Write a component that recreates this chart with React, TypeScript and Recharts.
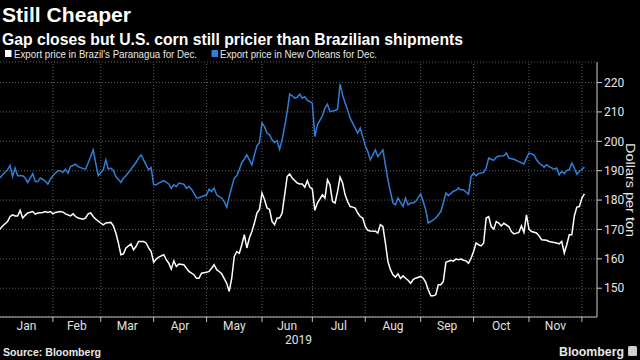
import { LineChart, Line, XAxis, YAxis, CartesianGrid, ReferenceLine } from "recharts"

const FONT = "Roboto, 'Liberation Sans', sans-serif"

// x axis is in trading sessions since the start of 2019
const months = ["Jan", "Feb", "Mar", "Apr", "May", "Jun", "Jul", "Aug", "Sep", "Oct", "Nov"]
const monthStarts = [0, 21, 40, 61, 82, 104, 124, 145, 167, 188, 210, 231]
const priceTicks = [150, 160, 170, 180, 190, 200, 210, 220]

const newOrleansDays = [
  0, 1, 3, 4, 5, 6, 7, 9, 10, 11, 13, 14, 15, 16, 18, 19, 20, 21, 23, 24, 25, 26, 27, 28, 30, 31, 33, 34, 36, 37,
  38, 39, 41, 42, 43, 44, 45, 46, 48, 49, 50, 52, 53, 54, 55, 56, 57, 58, 59, 60, 61, 62, 63, 65, 67, 68, 69, 70,
  71, 73, 74, 75, 76, 77, 78, 79, 81, 82, 83, 84, 85, 86, 87, 88, 89, 90, 91, 93, 94, 95, 96, 97, 98, 100, 101,
  102, 103, 104, 105, 106, 107, 108, 109, 110, 111, 112, 113, 114, 115, 116, 117, 118, 119, 120, 121, 122, 123,
  124, 125, 126, 128, 129, 130, 131, 133, 134, 135, 136, 137, 138, 139, 140, 141, 142, 143, 144, 145, 146, 147,
  148, 149, 150, 152, 153, 154, 155, 156, 157, 158, 159, 160, 161, 162, 163, 164, 165, 167, 168, 169, 170, 171,
  173, 174, 175, 176, 177, 178, 180, 181, 182, 183, 184, 186, 187, 188, 189, 190, 192, 193, 194, 195, 196, 197,
  198, 200, 201, 202, 204, 206, 208, 209, 210, 212, 213, 214, 216, 217, 218, 220, 221, 222, 223, 224, 225, 226,
  227, 228, 229, 230, 231, 232,
]
const newOrleansPrice = [
  187.5, 188.6, 190.3, 191.8, 188, 190.9, 188.3, 188.3, 187.5, 186, 189, 186.3, 186.3, 187.5, 186.5, 185.4, 187.1,
  188.3, 190, 190, 189.4, 190.5, 189.2, 191.4, 192.2, 191.4, 190.7, 190.5, 194.8, 197.1, 192.6, 188.3, 190.3,
  193.7, 190.6, 190.9, 190.1, 188, 186, 187.5, 188.3, 190.5, 191.7, 192.8, 194.3, 195.4, 193.7, 192, 190.3, 191.1,
  185.2, 185.2, 185.8, 186.6, 185.5, 184, 185.2, 184.6, 185.8, 185.4, 184, 184.6, 183.7, 182.4, 180.7, 180.8,
  181.5, 181.8, 183.7, 182.9, 184.1, 181.8, 181.2, 180.7, 179.5, 177.6, 181.2, 187.5, 188.3, 190.3, 192.8, 193.9,
  195.4, 192, 195.4, 198.5, 199.6, 206.2, 205, 202.8, 202.2, 200.5, 199.6, 200.3, 197.3, 200.5, 205, 210, 216.1,
  215.5, 214.7, 215, 216.1, 214.7, 215.2, 213.9, 213.5, 213, 201.6, 205.6, 208.7, 211.3, 212.6, 210.1, 210.5,
  210.9, 219.5, 215.8, 213, 210.7, 207.9, 206.2, 204.5, 202.8, 204.5, 201.6, 198.5, 196.5, 193.7, 195.4, 197.1,
  194.8, 197.1, 192, 186.9, 182.9, 179, 178.4, 180.7, 179.2, 177.8, 180.7, 178.4, 179, 179, 179.5, 182.1, 179.5,
  176.7, 172.2, 172.7, 173.9, 175, 176.1, 179, 182.4, 181.5, 183, 183.3, 184.1, 183.5, 183.5, 182, 188, 189.2,
  188.3, 189, 189.4, 190.9, 194.3, 193.9, 193.5, 194.6, 195, 195.1, 196, 194.3, 193.9, 193.1, 192.3, 194.3, 196,
  195.4, 193.7, 192.6, 191.2, 192, 191.4, 190.5, 190.9, 188.6, 189.8, 189, 190.1, 190.3, 192.6, 190.9, 188.8,
  189.8, 190.5, 191.2,
]

const paranaguaDays = [
  0, 1, 3, 4, 5, 6, 7, 8, 9, 10, 11, 13, 14, 15, 17, 18, 19, 20, 21, 22, 24, 25, 26, 28, 29, 30, 31, 33, 34, 35,
  36, 37, 38, 40, 41, 42, 44, 45, 46, 47, 48, 49, 50, 52, 53, 54, 55, 57, 58, 59, 60, 61, 62, 63, 65, 66, 67, 68,
  69, 70, 71, 73, 74, 75, 77, 78, 79, 80, 82, 83, 84, 85, 86, 87, 88, 90, 91, 92, 93, 94, 95, 96, 97, 98, 99, 100,
  101, 102, 103, 104, 105, 106, 107, 108, 109, 110, 111, 112, 113, 114, 115, 116, 118, 119, 120, 121, 122, 123,
  124, 125, 126, 128, 129, 130, 131, 132, 133, 134, 135, 136, 137, 138, 139, 140, 141, 142, 143, 144, 145, 146,
  147, 149, 150, 151, 152, 153, 154, 155, 156, 157, 158, 159, 160, 161, 162, 163, 164, 165, 167, 168, 169, 170,
  171, 172, 173, 174, 175, 176, 177, 179, 180, 181, 182, 183, 184, 185, 186, 187, 188, 189, 190, 191, 192, 193,
  194, 195, 196, 197, 198, 199, 200, 202, 203, 204, 206, 207, 208, 209, 210, 211, 213, 214, 215, 217, 218, 219,
  221, 222, 223, 224, 225, 226, 227, 228, 229, 230, 231, 232,
]
const paranaguaPrice = [
  170.1, 171.2, 172.7, 174.4, 175, 174.6, 174.6, 176.5, 173.9, 174.8, 175.6, 176.1, 175.2, 175.6, 175.8, 176.1,
  175.8, 176.1, 175.3, 175.8, 176.1, 175.9, 175.3, 174.6, 175.3, 174.4, 173.9, 173.5, 173.9, 175.3, 175.6, 174.4,
  173.5, 172.2, 171.6, 172.2, 172.4, 171.2, 168.8, 165.4, 161.4, 161.7, 163.7, 165.1, 163.1, 164.2, 165.9, 165.9,
  165.4, 163.7, 162.5, 158.8, 159.9, 160.6, 161.4, 159.7, 158.5, 156.5, 159.3, 157.4, 158.2, 158, 156.8, 155.7,
  154.6, 153.4, 153.4, 155.1, 155.4, 155.7, 156.8, 158, 156.3, 155.7, 154.9, 151.7, 148.9, 153.4, 160.8, 162.5,
  161.9, 164.8, 168.2, 163.7, 167.1, 169.3, 172.2, 175.6, 176.8, 182.4, 180.2, 177.3, 176.8, 172.7, 171.6, 173.9,
  173.9, 175.6, 181.8, 188, 188.9, 187.5, 185.8, 185.5, 185.5, 184.4, 186.6, 184.4, 183.7, 176.5, 179, 181.8,
  180.7, 186.9, 185.2, 179.5, 179, 182.9, 187.8, 185.8, 181.8, 179.5, 177.8, 177.6, 177.3, 175.6, 174.4, 173.9,
  171, 169.7, 169.5, 169.4, 168.8, 171.6, 171, 165.4, 159.1, 156.3, 154.6, 153.8, 154.9, 153.3, 154.2, 153.4,
  152.7, 151.7, 152.9, 153.4, 154, 153.4, 152, 149.5, 147.4, 147.4, 147.8, 151.2, 151.2, 152.3, 158.8, 159.5,
  159.2, 159.9, 159.7, 159.9, 159.5, 159.3, 158.5, 160.2, 162.5, 165.4, 164.8, 164.4, 165.4, 173.9, 174.4, 171,
  170.1, 172.7, 172.2, 171.2, 172.1, 171, 169.3, 168.5, 169, 171.2, 169, 175, 170, 169.3, 168.8, 167.8, 166.5,
  166.3, 165.9, 165.7, 165.4, 165.1, 165.9, 162, 164.8, 168.2, 168.2, 174.6, 177.6, 177.8, 180.7, 182.1,
]

const newOrleans = newOrleansDays.map((t, i) => ({ t, price: newOrleansPrice[i] }))
const paranagua = paranaguaDays.map((t, i) => ({ t, price: paranaguaPrice[i] }))

const monthMids = months.map((_, i) => (monthStarts[i] + monthStarts[i + 1]) / 2)
const xTicks = [...monthStarts.slice(1), ...monthMids].sort((a, b) => a - b)

function MonthTick({ x, y, payload }: any) {
  const v = payload.value
  if (monthStarts.includes(v)) {
    return <line x1={x} x2={x} y1={y} y2={y + 5} stroke="#bdbdbd" />
  }
  const label = months[monthMids.indexOf(v)]
  return (
    <text x={x} y={y + 12.5} textAnchor="middle" fill="#e0e0e0" fontSize={12}>
      {label}
    </text>
  )
}

export default function App() {
  return (
    <div
      style={{
        position: "absolute",
        left: 0,
        top: 0,
        width: 640,
        height: 360,
        background: "#000",
        overflow: "hidden",
        fontFamily: FONT,
      }}
    >
      <LineChart width={640} height={360} margin={{ top: 62, right: 0, bottom: 0, left: 0 }}>
        <CartesianGrid vertical={false} stroke="#5e5e5e" strokeDasharray="1 2" />
        {monthStarts.slice(1).map((t) => (
          <ReferenceLine key={t} x={t} stroke="#5e5e5e" strokeDasharray="1 2" />
        ))}
        <XAxis
          type="number"
          dataKey="t"
          domain={[0, 237]}
          allowDataOverflow
          ticks={xTicks}
          interval={0}
          tickSize={0}
          tickMargin={0}
          tickLine={false}
          axisLine={{ stroke: "#bdbdbd" }}
          tick={<MonthTick />}
          height={43}
          label={{ value: "2019", position: "insideTop", offset: 18, fill: "#e0e0e0", fontSize: 12 }}
        />
        <YAxis
          orientation="right"
          type="number"
          domain={[140.2, 227]}
          allowDataOverflow
          ticks={priceTicks}
          width={43}
          tickSize={5}
          tickMargin={2}
          axisLine={{ stroke: "#d0d0d0" }}
          tickLine={{ stroke: "#d0d0d0" }}
          tick={{ fill: "#e6e6e6", fontSize: 12 }}
        />
        <Line
          data={newOrleans}
          dataKey="price"
          type="linear"
          stroke="#2f7fd8"
          strokeWidth={1.5}
          dot={false}
          isAnimationActive={false}
        />
        <Line
          data={paranagua}
          dataKey="price"
          type="linear"
          stroke="#ffffff"
          strokeWidth={1.5}
          dot={false}
          isAnimationActive={false}
        />
      </LineChart>

      <svg
        width={640}
        height={360}
        style={{ position: "absolute", left: 0, top: 0, pointerEvents: "none" }}
        fontFamily="'Liberation Sans', Arial, sans-serif"
      >
        <text x={2} y={22} fontSize={21} fontWeight={700} fill="#fff" textLength={129} lengthAdjust="spacingAndGlyphs">
          Still Cheaper
        </text>
        <text x={2} y={44.5} fontSize={16} fontWeight={700} fill="#fff" textLength={461} lengthAdjust="spacingAndGlyphs">
          Gap closes but U.S. corn still pricier than Brazilian shipments
        </text>

        <rect x={5} y={50} width={6.5} height={7} fill="#fff" />
        <text x={14} y={57.5} fontSize={11} fill="#e8e8e8" textLength={183} lengthAdjust="spacingAndGlyphs">
          Export price in Brazil's Paranagua for Dec.
        </text>
        <rect x={211.5} y={50} width={6.5} height={7} fill="#2f7fd8" />
        <text x={220} y={57.5} fontSize={11} fill="#e8e8e8" textLength={157} lengthAdjust="spacingAndGlyphs">
          Export price in New Orleans for Dec.
        </text>

        <text
          transform="translate(626,190) rotate(90)"
          textAnchor="middle"
          fontSize={13}
          fill="#e8e8e8"
          textLength={94}
          lengthAdjust="spacingAndGlyphs"
        >
          Dollars per ton
        </text>

        <text x={3} y={356} fontSize={10.5} fontWeight={700} fill="#e8e8e8" textLength={98} lengthAdjust="spacingAndGlyphs">
          Source: Bloomberg
        </text>
        <text x={559} y={356} fontSize={13} fontWeight={700} fill="#e8e8e8" textLength={65} lengthAdjust="spacingAndGlyphs">
          Bloomberg
        </text>
        <rect x={628} y={346} width={9} height={10} rx={1.5} fill="#cfcfcf" />
      </svg>
    </div>
  )
}
